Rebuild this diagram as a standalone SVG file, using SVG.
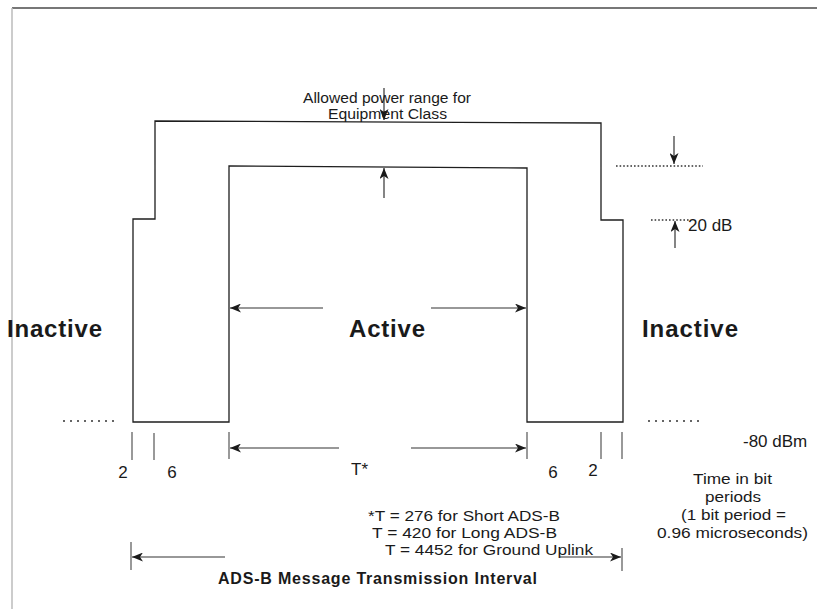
<svg xmlns="http://www.w3.org/2000/svg" width="817" height="609" viewBox="0 0 817 609">
<style>
  .ln{fill:none;stroke:#1e1e1e;stroke-width:1.3}
  .gr{fill:none;stroke:#555;stroke-width:1.2}
  .dot{fill:none;stroke:#333;stroke-width:1.3;stroke-dasharray:1.6 2}
  .dot2{fill:none;stroke:#333;stroke-width:1.5;stroke-dasharray:2 5}
  .arr{fill:none;stroke:#333;stroke-width:1.2;marker-end:url(#ah)}
  .t{font-family:"Liberation Sans",Arial,sans-serif;font-size:17px;fill:#1a1a1a}
  .s{font-family:"Liberation Sans",Arial,sans-serif;font-size:15px;fill:#1a1a1a}
  .b{font-family:"Liberation Sans",Arial,sans-serif;font-weight:bold;fill:#1a1a1a}
</style>
<defs>
  <marker id="ah" markerUnits="userSpaceOnUse" markerWidth="12" markerHeight="9" refX="11" refY="4.5" orient="auto">
    <path d="M0,0 L11,4.5 L0,9 L3,4.5 Z" fill="#1a1a1a"/>
  </marker>
</defs>
<rect width="817" height="609" fill="#fff"/>
<g id="frame">
  <line x1="12" y1="8" x2="817" y2="8" stroke="#777" stroke-width="2"/>
  <line x1="12" y1="8" x2="12" y2="609" stroke="#bbb" stroke-width="1.5"/>
</g>
<g id="envelope">
  <path class="ln" d="M133,422 L133,219 L155,219 L155,121 L601,123 L601,220 L623,220 L623,422 L527,422 L527,168 L229,166 L229,422 Z"/>
  <line class="dot" x1="616" y1="166" x2="703" y2="166"/>
  <line class="dot" x1="651" y1="220" x2="690" y2="220"/>
  <line class="dot2" x1="63" y1="421" x2="116" y2="421"/>
  <line class="dot2" x1="648" y1="421" x2="701" y2="421"/>
</g>
<g id="ticks">
  <line class="gr" x1="132" y1="432" x2="132" y2="460"/>
  <line class="gr" x1="154" y1="433" x2="154" y2="460"/>
  <line class="gr" x1="229" y1="432" x2="229" y2="459"/>
  <line class="gr" x1="527" y1="432" x2="527" y2="459"/>
  <line class="gr" x1="601" y1="432" x2="601" y2="459"/>
  <line class="gr" x1="622" y1="432" x2="622" y2="459"/>
  <line class="gr" x1="131" y1="542" x2="131" y2="570"/>
  <line class="gr" x1="622" y1="548" x2="622" y2="571"/>
</g>
<g id="connectors">
  <line class="arr" x1="384" y1="88" x2="384" y2="120"/>
  <line class="arr" x1="384" y1="198" x2="384" y2="168"/>
  <line class="arr" x1="674" y1="136" x2="674" y2="164"/>
  <line class="arr" x1="675" y1="248" x2="675" y2="221"/>
  <line class="arr" x1="323" y1="308" x2="230" y2="308"/>
  <line class="arr" x1="431" y1="308" x2="526" y2="308"/>
  <line class="arr" x1="339" y1="448" x2="230" y2="448"/>
  <line class="arr" x1="411" y1="448" x2="526" y2="448"/>
  <line class="arr" x1="225" y1="557" x2="132" y2="557"/>
  <line class="arr" x1="560" y1="557" x2="621" y2="557"/>
</g>
<g id="labels">
  <text class="s" x="303" y="102.5" font-size="14" style="font-size:14px" textLength="168" lengthAdjust="spacingAndGlyphs">Allowed power range for</text>
  <text class="s" x="328" y="118.5" style="font-size:14px" textLength="119" lengthAdjust="spacingAndGlyphs">Equipment Class</text>
  <text class="t" x="688" y="231">20 dB</text>
  <text class="b" x="7" y="337" font-size="24" textLength="95">Inactive</text>
  <text class="b" x="349" y="337" font-size="24" textLength="76">Active</text>
  <text class="b" x="642" y="337" font-size="24" textLength="96">Inactive</text>
  <text class="t" x="743" y="447">-80 dBm</text>
  <text class="t" x="123" y="478" text-anchor="middle">2</text>
  <text class="t" x="172" y="478" text-anchor="middle">6</text>
  <text class="t" x="351" y="475">T*</text>
  <text class="t" x="553" y="478" text-anchor="middle">6</text>
  <text class="t" x="593" y="476" text-anchor="middle">2</text>
  <text class="s" x="693" y="484" textLength="79" lengthAdjust="spacingAndGlyphs">Time in bit</text>
  <text class="s" x="705" y="502" textLength="56" lengthAdjust="spacingAndGlyphs">periods</text>
  <text class="s" x="681" y="520" textLength="105" lengthAdjust="spacingAndGlyphs">(1 bit period =</text>
  <text class="s" x="657" y="538" textLength="151" lengthAdjust="spacingAndGlyphs">0.96 microseconds)</text>
  <text class="s" x="368" y="521" textLength="192" lengthAdjust="spacingAndGlyphs">*T = 276 for Short ADS-B</text>
  <text class="s" x="372" y="538" textLength="185" lengthAdjust="spacingAndGlyphs">T = 420 for Long ADS-B</text>
  <text class="s" x="385" y="555" textLength="208" lengthAdjust="spacingAndGlyphs">T = 4452 for Ground Uplink</text>
  <text class="b" x="218" y="584" font-size="16" textLength="319">ADS-B Message Transmission Interval</text>
</g>
</svg>
